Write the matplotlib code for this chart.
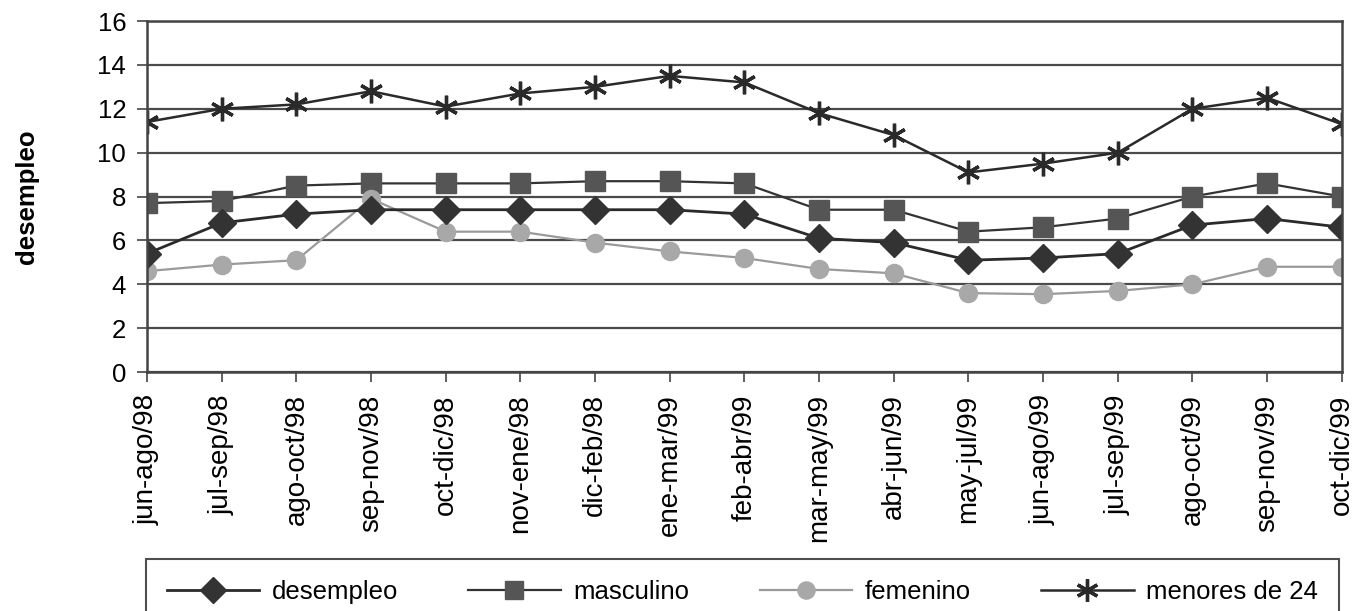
import matplotlib
matplotlib.use("Agg")
import matplotlib.pyplot as plt

plt.rcParams['font.family'] = ['Liberation Sans', 'DejaVu Sans']

# periodos trimestrales moviles
periodos = ["jun-ago/98", "jul-sep/98", "ago-oct/98", "sep-nov/98", "oct-dic/98",
            "nov-ene/98", "dic-feb/98", "ene-mar/99", "feb-abr/99", "mar-may/99",
            "abr-jun/99", "may-jul/99", "jun-ago/99", "jul-sep/99", "ago-oct/99",
            "sep-nov/99", "oct-dic/99"]

desempleo = [5.4, 6.8, 7.2, 7.4, 7.4, 7.4, 7.4, 7.4, 7.2, 6.1, 5.9, 5.1, 5.2, 5.4, 6.7, 7.0, 6.6]
masculino = [7.7, 7.8, 8.5, 8.6, 8.6, 8.6, 8.7, 8.7, 8.6, 7.4, 7.4, 6.4, 6.6, 7.0, 8.0, 8.6, 8.0]
femenino = [4.6, 4.9, 5.1, 7.9, 6.4, 6.4, 5.9, 5.5, 5.2, 4.7, 4.5, 3.6, 3.55, 3.7, 4.0, 4.8, 4.8]
menores_24 = [11.4, 12.0, 12.2, 12.8, 12.1, 12.7, 13.0, 13.5, 13.2, 11.8, 10.8, 9.1, 9.5, 10.0, 12.0, 12.5, 11.3]

fig = plt.figure(figsize=(13.54, 6.11), dpi=100)
ax = fig.add_axes([0.1086, 0.391, 0.8824, 0.5746])

x = list(range(len(periodos)))

# lineas de la grilla primero
ax.set_ylim(0, 16)
ax.set_yticks(range(0, 17, 2))
ax.grid(axis='y', color='#4a4a4a', linewidth=1.6)
ax.set_axisbelow(True)

ax.plot(x, masculino, color='#333333', linewidth=1.6, marker='s', markersize=14,
        markerfacecolor='#555555', markeredgecolor='#555555', label='masculino')
ax.plot(x, femenino, color='#9a9a9a', linewidth=1.6, marker='o', markersize=13,
        markerfacecolor='#a8a8a8', markeredgecolor='#a8a8a8', label='femenino')
ax.plot(x, desempleo, color='#2a2a2a', linewidth=2, marker='D', markersize=14,
        markerfacecolor='#333333', markeredgecolor='#333333', label='desempleo')
ax.plot(x, menores_24, color='#2a2a2a', linewidth=1.8, marker=(6, 2, 0), markersize=17,
        markeredgewidth=2.4, markeredgecolor='#2a2a2a', label='menores de 24')

ax.set_xlim(0, len(periodos) - 1)
ax.set_xticks(x)
ax.set_xticklabels(periodos, rotation=90, fontsize=20)
ax.tick_params(axis='y', labelsize=18.5, length=7, width=1.2, color='#444444', pad=8)
ax.tick_params(axis='x', length=7, width=1.2, color='#444444', pad=9)

for s in ax.spines.values():
    s.set_color('#444444')
    s.set_linewidth(1.8)

ax.set_ylabel('desempleo', fontsize=18.5, fontweight='bold', labelpad=42)

# leyenda abajo en una caja (el borde de abajo queda fuera de la imagen)
h, l = ax.get_legend_handles_labels()
orden = [2, 0, 1, 3]
leg = fig.legend([h[i] for i in orden], [l[i] for i in orden],
                 loc='upper left', bbox_to_anchor=(0.1078, 0.0851, 0.881, 0.0),
                 mode='expand', ncol=4, fontsize=18.5, frameon=True,
                 fancybox=False, edgecolor='#222222', handlelength=3.6,
                 handletextpad=0.5, borderaxespad=0, borderpad=0.8, markerscale=0.95)
leg.get_frame().set_linewidth(1.5)

fig.savefig('out.png', dpi=100)
